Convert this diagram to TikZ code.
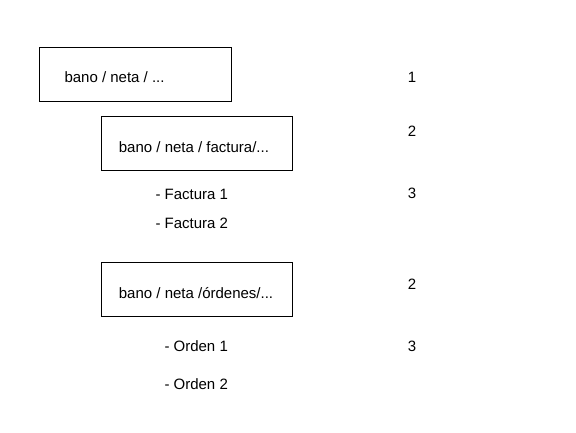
\documentclass[tikz,border=0pt]{standalone}
\usepackage{fontspec}
\setmainfont{Liberation Sans}
\begin{document}
\begin{tikzpicture}[x=1pt,y=1pt,yscale=-1,xscale=1,
  txt/.style={anchor=base west,inner sep=0pt,font=\fontsize{15}{17}\selectfont},
  lvl/.style={anchor=base,inner sep=0pt,font=\fontsize{15}{17}\selectfont}]
\useasboundingbox (0,0) rectangle (576,433);

%=====Dobozok=======
\draw   (39,47) rectangle (231,101) ;
\draw   (101,116) rectangle (292,170) ;
\draw   (101,262) rectangle (292,316) ;

%======Felirat=========
\draw (64.3,82.8) node [txt] (raiz) {bano / neta / ...};
\draw (118.7,152.5) node [txt] (fact) {bano / neta / factura/...};
\draw (155.3,200) node [txt] (fact1) {- Factura 1};
\draw (155.3,229) node [txt] (fact2) {- Factura 2};
\draw (118.7,298.3) node [txt] (ord) {bano / neta /órdenes/...};
\draw (164.3,351.3) node [txt] (ord1) {- Orden 1};
\draw (164.3,389.5) node [txt] (ord2) {- Orden 2};

%======Szintek=========
\draw (412,82.8) node [lvl] (n1) {1};
\draw (412,136.7) node [lvl] (n2a) {2};
\draw (412,198.5) node [lvl] (n3a) {3};
\draw (412,289.5) node [lvl] (n2b) {2};
\draw (412,351.5) node [lvl] (n3b) {3};

\end{tikzpicture}
\end{document}
